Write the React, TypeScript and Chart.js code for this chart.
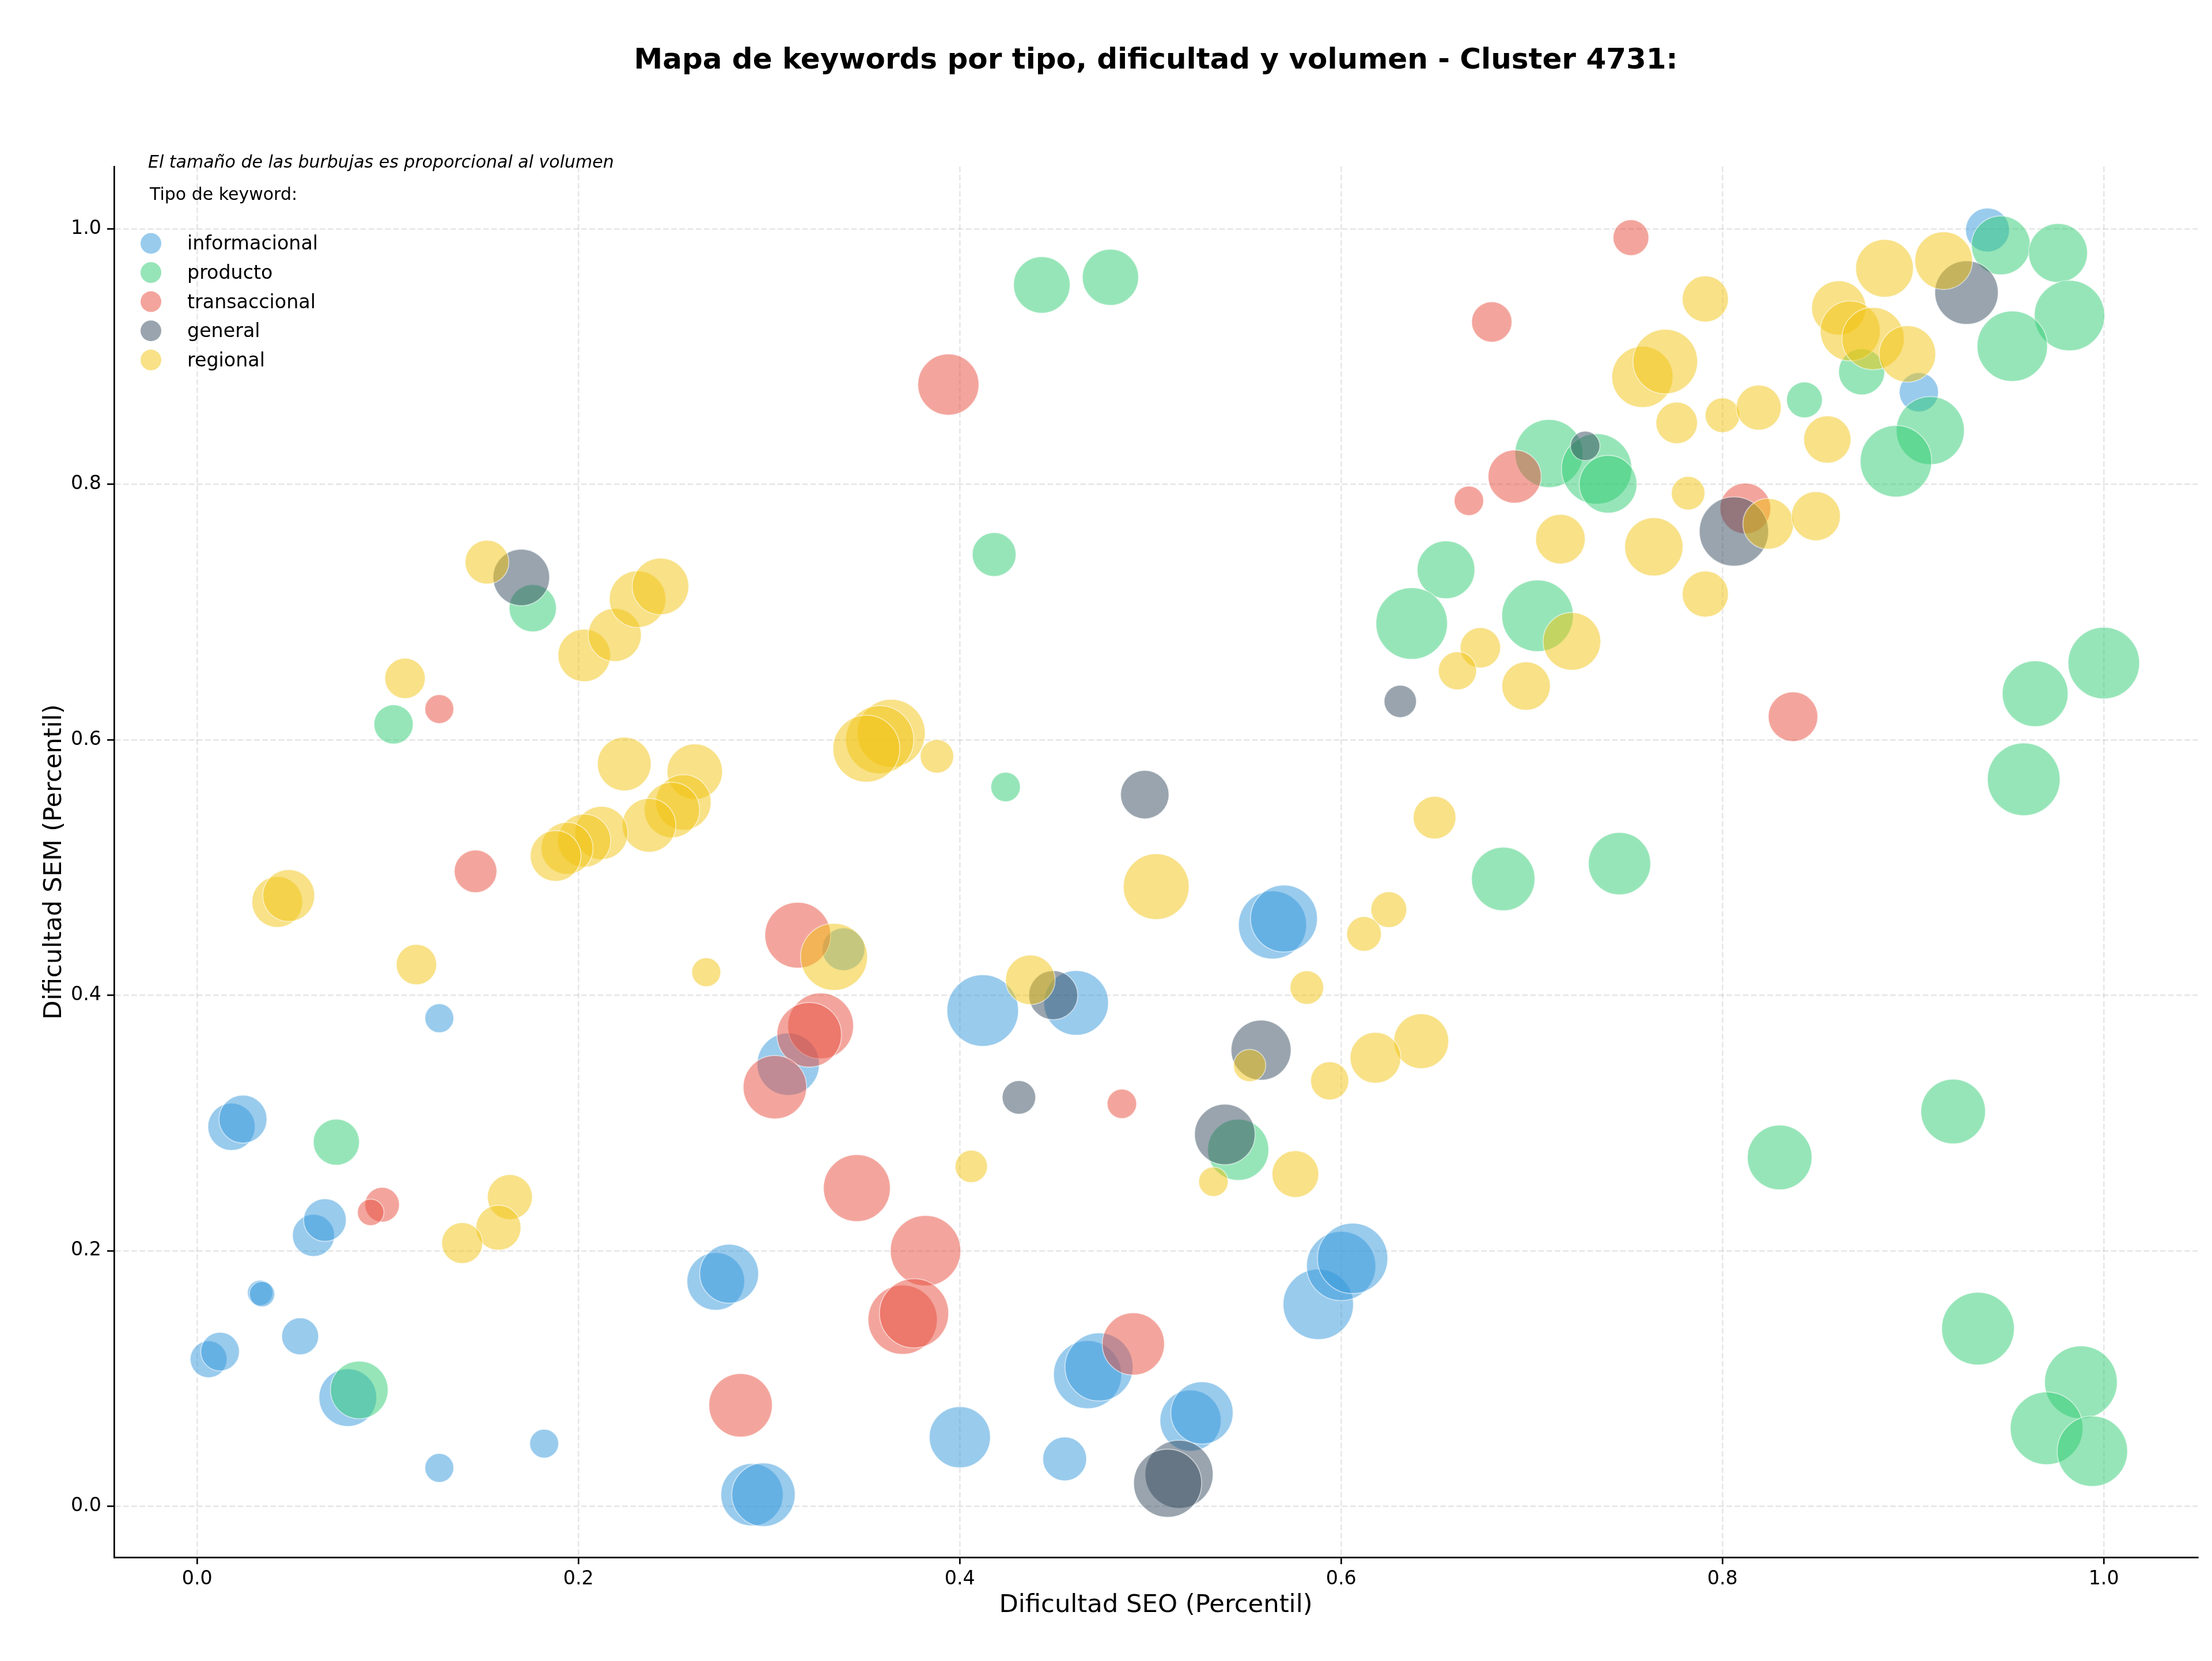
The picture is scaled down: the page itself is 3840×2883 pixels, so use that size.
import React, { useEffect, useRef } from "react";
import { Chart, registerables } from "chart.js";

Chart.register(...registerables);

const WIDTH = 3840;
const HEIGHT = 2883;

const TITULO = "Mapa de keywords por tipo, dificultad y volumen - Cluster 4731:";
const NOTA = "El tamaño de las burbujas es proporcional al volumen";
const TITULO_LEYENDA = "Tipo de keyword:";
const EJE_X = "Dificultad SEO (Percentil)";
const EJE_Y = "Dificultad SEM (Percentil)";

const tipos = ["informacional", "producto", "transaccional", "general", "regional"];
const colores = ["#3498db", "#2ecc71", "#e74c3c", "#34495e", "#f1c40f"];

const ticksPercentil = [0, 0.2, 0.4, 0.6, 0.8, 1.0];
const X_MIN = -0.0436;
const X_MAX = 1.0492;
const Y_MIN = -0.04;
const Y_MAX = 1.0487;

// [dificultad SEO, dificultad SEM, volumen]
const informacional: [number, number, number][] = [
  [0.939, 0.999, 4010], [0.903, 0.872, 3210], [0.564, 0.455, 9670], [0.570, 0.460, 9340],
  [0.412, 0.388, 10680], [0.461, 0.394, 8710], [0.310, 0.346, 8100], [0.339, 0.436, 3800],
  [0.272, 0.176, 6940], [0.279, 0.182, 7230], [0.291, 0.009, 8100], [0.297, 0.009, 8400],
  [0.400, 0.054, 7800], [0.455, 0.037, 4010], [0.467, 0.103, 9670], [0.473, 0.109, 9670],
  [0.521, 0.067, 7800], [0.527, 0.073, 8100], [0.588, 0.158, 10340], [0.600, 0.188, 10000],
  [0.606, 0.194, 10340], [0.018, 0.297, 4670], [0.024, 0.303, 4810], [0.061, 0.212, 3700],
  [0.067, 0.224, 3800], [0.033, 0.167, 1340], [0.034, 0.166, 1340], [0.054, 0.133, 2840],
  [0.006, 0.115, 2840], [0.012, 0.121, 3120], [0.079, 0.085, 6940], [0.127, 0.030, 1740],
  [0.182, 0.049, 1740], [0.127, 0.382, 1740],
];

const producto: [number, number, number][] = [
  [0.946, 0.987, 7230], [0.976, 0.981, 7230], [0.982, 0.932, 10340], [0.952, 0.908, 10340],
  [0.873, 0.888, 4440], [0.843, 0.866, 2670], [0.909, 0.842, 9670], [0.891, 0.818, 10680],
  [0.709, 0.824, 9670], [0.734, 0.812, 10340], [0.740, 0.800, 6940], [0.655, 0.733, 6940],
  [0.637, 0.691, 10680], [0.703, 0.697, 10680], [1.000, 0.660, 10680], [0.964, 0.636, 9030],
  [0.958, 0.569, 11030], [0.685, 0.491, 8400], [0.746, 0.503, 8100], [0.921, 0.309, 8710],
  [0.830, 0.273, 8710], [0.934, 0.139, 11030], [0.988, 0.097, 11030], [0.970, 0.061, 11030],
  [0.994, 0.043, 10340], [0.443, 0.956, 6670], [0.479, 0.962, 6590], [0.418, 0.745, 4010],
  [0.424, 0.563, 1810], [0.176, 0.703, 4670], [0.103, 0.612, 3210], [0.073, 0.285, 4440],
  [0.085, 0.091, 6940], [0.546, 0.279, 7800],
];

const transaccional: [number, number, number][] = [
  [0.752, 0.993, 2670], [0.679, 0.927, 3400], [0.691, 0.806, 5880], [0.667, 0.787, 1810],
  [0.812, 0.781, 5380], [0.837, 0.618, 5140], [0.394, 0.878, 7800], [0.127, 0.624, 1740],
  [0.146, 0.497, 3800], [0.315, 0.447, 9030], [0.327, 0.376, 9030], [0.321, 0.369, 8710],
  [0.303, 0.328, 8400], [0.346, 0.249, 9340], [0.382, 0.200, 10340], [0.370, 0.146, 10000],
  [0.376, 0.151, 10000], [0.285, 0.079, 8400], [0.491, 0.127, 8100], [0.485, 0.315, 1810],
  [0.097, 0.236, 2500], [0.091, 0.230, 1470],
];

const general: [number, number, number][] = [
  [0.928, 0.950, 8400], [0.806, 0.763, 10000], [0.728, 0.830, 1810], [0.631, 0.630, 2180],
  [0.497, 0.557, 4900], [0.449, 0.400, 5020], [0.431, 0.320, 2340], [0.558, 0.357, 7510],
  [0.539, 0.291, 7660], [0.515, 0.025, 9670], [0.509, 0.018, 9670], [0.170, 0.727, 6670],
];

const regional: [number, number, number][] = [
  [0.885, 0.969, 6940], [0.916, 0.975, 6940], [0.861, 0.938, 6140], [0.867, 0.920, 7510],
  [0.879, 0.914, 8100], [0.897, 0.902, 6670], [0.791, 0.945, 4440], [0.758, 0.884, 7800],
  [0.770, 0.896, 8710], [0.776, 0.848, 3600], [0.800, 0.854, 2500], [0.819, 0.860, 4230],
  [0.855, 0.835, 4670], [0.782, 0.793, 2340], [0.824, 0.769, 5380], [0.849, 0.775, 5020],
  [0.791, 0.714, 4440], [0.764, 0.751, 7080], [0.715, 0.757, 5140], [0.721, 0.677, 6940],
  [0.673, 0.672, 3400], [0.661, 0.654, 3030], [0.697, 0.642, 4900], [0.649, 0.539, 3800],
  [0.625, 0.467, 2670], [0.612, 0.448, 2500], [0.582, 0.406, 2340], [0.642, 0.364, 6270],
  [0.618, 0.351, 5380], [0.594, 0.333, 3030], [0.552, 0.345, 2180], [0.503, 0.485, 9030],
  [0.576, 0.260, 4560], [0.533, 0.254, 1810], [0.406, 0.266, 2180], [0.267, 0.418, 1740],
  [0.334, 0.430, 9340], [0.388, 0.587, 2340], [0.364, 0.605, 9670], [0.358, 0.600, 9670],
  [0.351, 0.593, 9340], [0.261, 0.575, 6400], [0.255, 0.551, 6400], [0.249, 0.545, 6400],
  [0.237, 0.533, 6010], [0.212, 0.527, 5880], [0.203, 0.521, 5880], [0.194, 0.515, 5630],
  [0.188, 0.509, 5380], [0.224, 0.581, 6010], [0.109, 0.648, 3400], [0.042, 0.473, 5380],
  [0.048, 0.478, 5630], [0.115, 0.424, 3400], [0.203, 0.666, 5750], [0.219, 0.682, 5880],
  [0.152, 0.739, 4010], [0.231, 0.710, 6670], [0.243, 0.720, 6670], [0.164, 0.242, 4230],
  [0.158, 0.218, 4230], [0.139, 0.206, 3500], [0.437, 0.412, 5140],
];

const series = [informacional, producto, transaccional, general, regional];

const FUENTE = "'DejaVu Sans', 'Liberation Sans', sans-serif";
const ALFA = 0.5;

function rgba(hex: string, a: number): string {
  const n = parseInt(hex.slice(1), 16);
  return `rgba(${(n >> 16) & 255}, ${(n >> 8) & 255}, ${n & 255}, ${a})`;
}

// bubble area grows linearly with search volume
function radio(volumen: number): number {
  return 0.6 * Math.sqrt(volumen);
}

const textos = {
  id: "textos",
  afterDraw(chart: any) {
    const { ctx, chartArea } = chart;
    ctx.save();
    ctx.fillStyle = "#000";
    ctx.textBaseline = "alphabetic";

    ctx.textAlign = "center";
    ctx.font = `bold 50px ${FUENTE}`;
    ctx.fillText(TITULO, (chartArea.left + chartArea.right) / 2, 119);

    ctx.textAlign = "left";
    ctx.font = `italic 30px ${FUENTE}`;
    ctx.fillText(NOTA, 257, 291);
    ctx.font = `30px ${FUENTE}`;
    ctx.fillText(TITULO_LEYENDA, 260, 347);

    ctx.font = `33.3px ${FUENTE}`;
    tipos.forEach((t, i) => {
      const y = 422.4 + i * 50.6;
      ctx.beginPath();
      ctx.arc(262, y, 18, 0, Math.PI * 2);
      ctx.fillStyle = rgba(colores[i], ALFA);
      ctx.fill();
      ctx.fillStyle = "#000";
      ctx.fillText(t, 325, y + 11);
    });
    ctx.restore();
  },
};

function escala(min: number, max: number, titulo: string, tituloPadding: any, ticksPadding: number, fit: (s: any) => void) {
  return {
    type: "linear" as const,
    min,
    max,
    afterBuildTicks(s: any) {
      s.ticks = ticksPercentil.map((v) => ({ value: v }));
    },
    afterFit(s: any) {
      fit(s);
      s.paddingLeft = 0;
      s.paddingRight = 0;
      s.paddingTop = 0;
      s.paddingBottom = 0;
    },
    ticks: {
      autoSkip: false,
      maxRotation: 0,
      padding: ticksPadding,
      color: "#000",
      font: { family: FUENTE, size: 33.3 },
      callback: (v: any) => Number(v).toFixed(1),
    },
    grid: {
      color: "rgba(176, 176, 176, 0.3)",
      lineWidth: 2.67,
      drawTicks: true,
      tickLength: 12,
      tickColor: "#000",
      tickWidth: 2.67,
      tickBorderDash: [],
    },
    border: { display: true, color: "#000", width: 2.67, dash: [9.9, 4.3] },
    title: {
      display: true,
      text: titulo,
      color: "#000",
      font: { family: FUENTE, size: 43.3 },
      padding: tituloPadding,
    },
  };
}

export default function App() {
  const ref = useRef<HTMLCanvasElement>(null);

  useEffect(() => {
    const canvas = ref.current;
    if (!canvas) return;

    const datasets = series.map((puntos, i) => ({
      label: tipos[i],
      order: tipos.length - 1 - i,
      data: puntos.map(([x, y, v]) => ({ x, y, r: radio(v) })),
      backgroundColor: rgba(colores[i], ALFA),
      borderColor: "rgba(255, 255, 255, 0.55)",
      borderWidth: 1.7,
      hoverBorderWidth: 1.7,
    }));

    const chart = new Chart(canvas, {
      type: "bubble",
      data: { datasets },
      options: {
        responsive: false,
        animation: false,
        devicePixelRatio: 1,
        events: [],
        layout: { autoPadding: false, padding: { left: 0, right: 25, top: 289, bottom: 0 } },
        plugins: {
          legend: { display: false },
          title: { display: false },
          tooltip: { enabled: false },
        },
        scales: {
          x: escala(X_MIN, X_MAX, EJE_X, { top: 0, bottom: 70 }, 6, (s: any) => {
            s.height = HEIGHT - 2703;
          }),
          y: escala(Y_MIN, Y_MAX, EJE_Y, { top: 69, bottom: 0 }, 10, (s: any) => {
            s.width = 198;
          }),
        },
      },
      plugins: [textos],
    } as any);

    return () => chart.destroy();
  }, []);

  return (
    <div style={{ position: "fixed", left: 0, top: 0, width: WIDTH, height: HEIGHT, background: "#fff" }}>
      <canvas ref={ref} width={WIDTH} height={HEIGHT} style={{ display: "block", width: WIDTH, height: HEIGHT }} />
    </div>
  );
}
